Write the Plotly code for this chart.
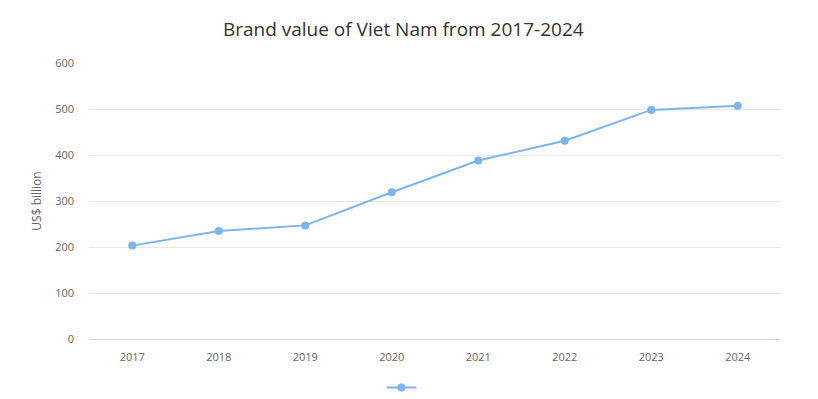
import plotly.graph_objects as go

years = ["2017", "2018", "2019", "2020", "2021", "2022", "2023", "2024"]
values = [203, 235, 247, 319, 388, 431, 498, 507]
y_ticks = [0, 100, 200, 300, 400, 500, 600]

color = "#7cb5ec"
font_family = "Open Sans, DejaVu Sans, sans-serif"

fig = go.Figure()
fig.add_trace(go.Scatter(
    x=years, y=values, mode="lines+markers", name=" ",
    line=dict(color=color, width=2),
    marker=dict(color=color, size=8),
    showlegend=True,
))

# page body has an 8px margin, so the figure is sized/offset accordingly
fig.update_layout(
    width=810, height=391,
    margin=dict(l=81, r=37, t=55, b=60, autoexpand=False),
    paper_bgcolor="white", plot_bgcolor="white",
    font=dict(family=font_family, color="#666666", size=11),
    title=dict(text="Brand value of Viet Nam from 2017-2024",
               x=0.488, xanchor="center", y=0.946, yanchor="middle",
               font=dict(size=19, color="#333333", family=font_family)),
    xaxis=dict(type="category", range=[-0.5, 7.5], showgrid=False,
               showline=True, linecolor="#ccd6eb", linewidth=1,
               ticks="", tickfont=dict(size=11, color="#666666"),
               ticklabelstandoff=8, automargin=False),
    yaxis=dict(range=[0, 600], tickvals=y_ticks, showgrid=True,
               gridcolor="#e6e6e6", gridwidth=1, zeroline=False,
               title=dict(text="US$ billion", font=dict(size=12, color="#666666"), standoff=10),
               tickfont=dict(size=11, color="#666666"), ticklabelstandoff=14,
               automargin=False),
    showlegend=True,
    legend=dict(orientation="h", x=0.458, xanchor="center", y=-0.123, yanchor="top",
                font=dict(size=12)),
)

fig.write_html("out.html")
